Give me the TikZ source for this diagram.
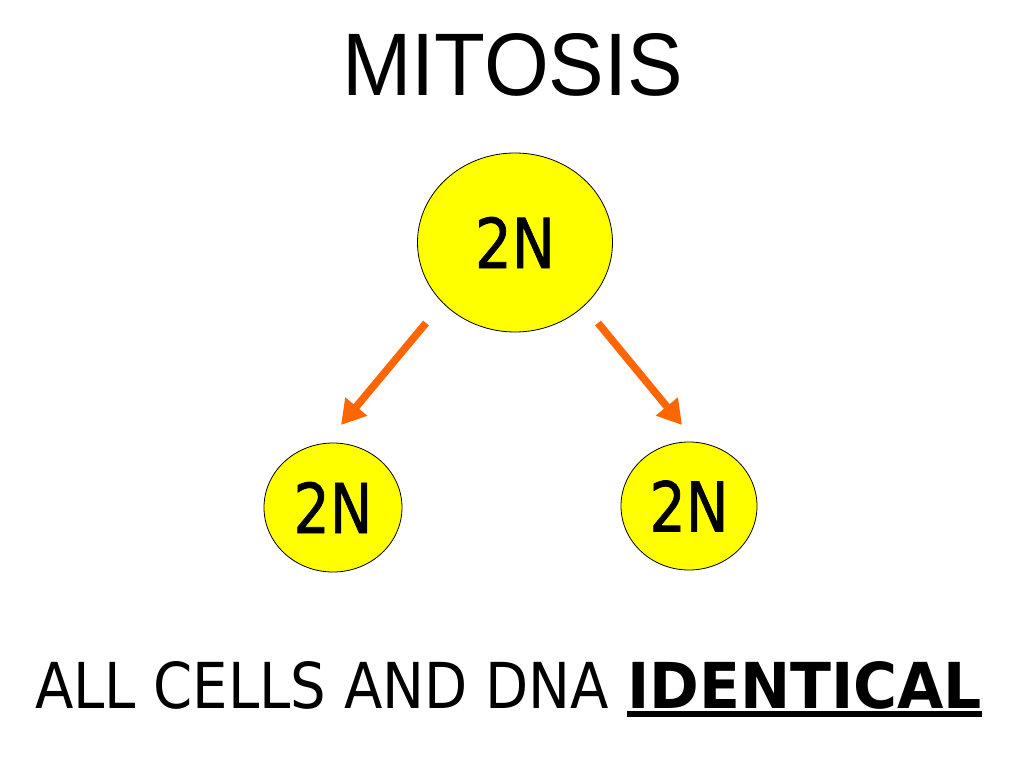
\documentclass[tikz,border=0pt]{standalone}
\usepackage{fontspec}
\usepackage{graphicx}
\setmainfont{Liberation Sans}
\newfontfamily\dvs{DejaVu Sans}
\newfontfamily\dvsheavy[FakeBold=1.2]{DejaVu Sans}
\usetikzlibrary{shapes.geometric,arrows.meta}
\definecolor{cellyellow}{HTML}{FFFF00}
\definecolor{arroworange}{HTML}{FF6600}
\tikzset{
  cell/.style={ellipse, draw=black, line width=0.8bp, fill=cellyellow, inner sep=0pt},
  txt/.style={inner sep=0pt, outer sep=0pt},
  arr/.style={draw=arroworange, line width=7.5bp, -{Triangle[length=24bp,width=27bp]}}
}
\begin{document}
\begin{tikzpicture}[x=1bp,y=-1bp]
\useasboundingbox[fill=white] (0,0) rectangle (1024,768);
% title
\node[txt, anchor=base west] (title) at (342,95) {\resizebox{341bp}{62bp}{MITOSIS}};
% cells
\node[cell, minimum width=195bp, minimum height=179bp] (top) at (515,242.5) {\resizebox{80bp}{51bp}{\dvsheavy 2N}};
\node[cell, minimum width=138bp, minimum height=129bp] (left) at (333,507.5) {\resizebox{79bp}{51bp}{\dvsheavy 2N}};
\node[cell, minimum width=136bp, minimum height=128bp] (right) at (689,506) {\resizebox{79bp}{51bp}{\dvsheavy 2N}};
% arrows
\coordinate (ls) at (426,323);
\coordinate (le) at (341,425);
\coordinate (rs) at (598,323);
\coordinate (re) at (682,425);
\draw[arr] (ls) -- (le);
\draw[arr] (rs) -- (re);
% bottom text
\node[txt, anchor=base west] (cap) at (35,708) {\resizebox{574bp}{47bp}{\dvs ALL CELLS AND DNA}};
\node[txt, anchor=base west] (idt) at (627,708) {\resizebox{355bp}{47bp}{\dvs\bfseries IDENTICAL}};
\fill[black] ([yshift=-3bp]idt.base west) rectangle ([yshift=-9bp]idt.base east);
\end{tikzpicture}
\end{document}
